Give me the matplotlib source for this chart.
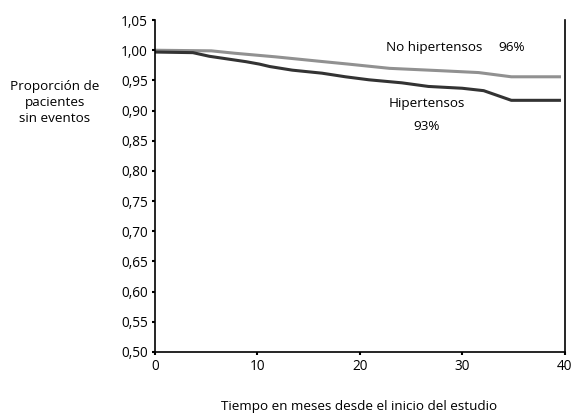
import matplotlib
matplotlib.use("Agg")
import matplotlib.pyplot as plt
from matplotlib.ticker import FuncFormatter, MultipleLocator

# Curvas de supervivencia (meses, proporción sin eventos)
meses_no_hta = [0, 5.5, 7.8, 11.8, 15.9, 18.9, 22.9, 28.0, 31.6, 34.8, 39.5]
prop_no_hta = [1.000, 0.999, 0.995, 0.989, 0.982, 0.977, 0.970, 0.966, 0.963, 0.956, 0.956]

meses_hta = [0, 3.7, 5.3, 7.3, 8.9, 10.2, 11.2, 13.4, 16.3, 18.6, 20.9, 24.1, 26.7, 30.0, 32.1, 34.8, 39.5]
prop_hta = [0.997, 0.996, 0.990, 0.985, 0.981, 0.977, 0.973, 0.967, 0.962, 0.956, 0.951, 0.946, 0.940, 0.937, 0.933, 0.917, 0.917]

plt.rcParams['font.family'] = ['Open Sans', 'DejaVu Sans']

fig = plt.figure(figsize=(5.72, 4.18), dpi=100)
ax = fig.add_axes([0.271, 0.158, 0.716, 0.794])

ax.plot(meses_no_hta, prop_no_hta, color='#919191', lw=2.2)
ax.plot(meses_hta, prop_hta, color='#333333', lw=2.2)

ax.set_xlim(0, 40)
ax.set_ylim(0.50, 1.05)
ax.xaxis.set_major_locator(MultipleLocator(10))
ax.yaxis.set_major_locator(MultipleLocator(0.05))
ax.yaxis.set_major_formatter(FuncFormatter(lambda v, p: f"{v:.2f}".replace('.', ',')))
ax.tick_params(labelsize=9.8, length=2, width=1.5, colors='black', pad=3)
ax.spines['top'].set_visible(False)
for s in ['left', 'right', 'bottom']:
    ax.spines[s].set_linewidth(1.2)

ax.text(22.6, 1.005, "No hipertensos", fontsize=9.7, va='center')
ax.text(33.5, 1.005, "96%", fontsize=9.7, va='center')
ax.text(26.5, 0.911, "Hipertensos", fontsize=9.7, ha='center', va='center')
ax.text(26.5, 0.873, "93%", fontsize=9.7, ha='center', va='center')

fig.text(0.096, 0.755, "Proporción de\npacientes\nsin eventos", fontsize=9.7,
         ha='center', va='center', linespacing=1.28)
fig.text(0.628, 0.027, "Tiempo en meses desde el inicio del estudio", fontsize=9.7,
         ha='center', va='center')

fig.savefig("out.png", dpi=100)
